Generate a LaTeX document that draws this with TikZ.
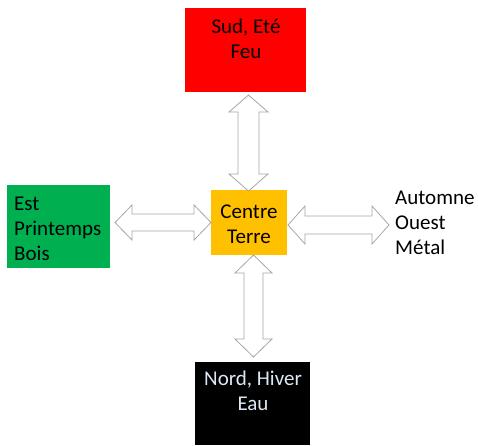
\documentclass[tikz,border=0pt]{standalone}
\usepackage{fontspec}
\setmainfont{Carlito}
\definecolor{sudred}{HTML}{FF0000}
\definecolor{estgreen}{HTML}{00B050}
\definecolor{centreorange}{HTML}{FFC000}
\definecolor{nordtext}{HTML}{DCE8F6}
% vertical double block arrow: cx, ytop, ybottom, half shaft, half head, head length
\newcommand{\myvarrow}[6]{%
  \draw[blockarrow] (#1,#2) -- ({#1+#5},{#2+#6}) -- ({#1+#4},{#2+#6}) -- ({#1+#4},{#3-#6})
    -- ({#1+#5},{#3-#6}) -- (#1,#3) -- ({#1-#5},{#3-#6}) -- ({#1-#4},{#3-#6})
    -- ({#1-#4},{#2+#6}) -- ({#1-#5},{#2+#6}) -- cycle;}
% horizontal double block arrow: cy, xleft, xright, half shaft, half head, head length
\newcommand{\myharrow}[6]{%
  \draw[blockarrow] (#2,#1) -- ({#2+#6},{#1-#5}) -- ({#2+#6},{#1-#4}) -- ({#3-#6},{#1-#4})
    -- ({#3-#6},{#1-#5}) -- (#3,#1) -- ({#3-#6},{#1+#5}) -- ({#3-#6},{#1+#4})
    -- ({#2+#6},{#1+#4}) -- ({#2+#6},{#1+#5}) -- cycle;}
\begin{document}
\begin{tikzpicture}[x=1pt,y=-1pt,
  box/.style={rectangle, inner sep=0pt, draw=none},
  label/.style={inner sep=0pt, font=\fontsize{21}{25}\selectfont},
  blockarrow/.style={draw=gray!70, line width=0.8pt, fill=white, line join=miter}
]
\useasboundingbox (0,0) rectangle (478,445);
% boxes
\node[box, fill=sudred, minimum width=121pt, minimum height=84pt] (sud) at (245.5,50) {};
\node[box, fill=estgreen, minimum width=103pt, minimum height=83pt] (est) at (58.5,226.5) {};
\node[box, fill=centreorange, minimum width=76pt, minimum height=65pt] (centre) at (249,222.5) {};
\node[box, fill=black, minimum width=115pt, minimum height=83pt] (nord) at (252.5,403.5) {};
% texts
\node[label, align=center, anchor=north] (sudtxt) at (246,19) {Sud, Eté\\Feu};
\node[label, align=left, anchor=north west] (esttxt) at (14,197) {Est\\Printemps\\Bois};
\node[label, align=center, anchor=center] (centretxt) at (249,224.5) {Centre\\Terre};
\node[label, align=center, anchor=north, text=nordtext] (nordtxt) at (253,371) {Nord, Hiver\\Eau};
\node[label, align=left, anchor=north west] (ouest) at (395,191) {Automne\\Ouest\\Métal};
% double block arrows
\myvarrow{248.5}{95}{191}{10.5}{19.5}{17}
\myharrow{222.5}{115}{211}{8.5}{17.5}{17}
\myharrow{225}{288}{389}{9}{19}{17}
\myvarrow{253.5}{255}{357}{9.5}{18.5}{18}
\end{tikzpicture}
\end{document}
